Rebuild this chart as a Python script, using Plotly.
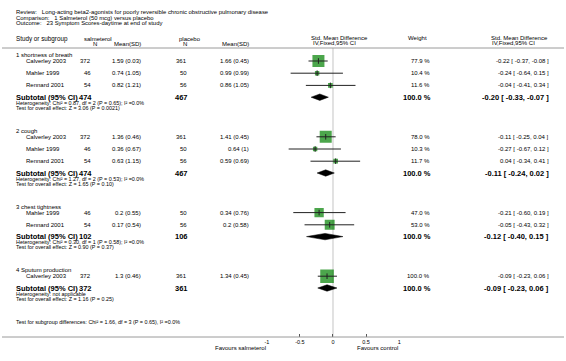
import math
import plotly.graph_objects as go

# ---------------- data ----------------
review = "Review:   Long-acting beta2-agonists for poorly reversible chronic obstructive pulmonary disease"
comparison = "Comparison:   1 Salmeterol (50 mcg) versus placebo"
outcome = "Outcome:   23 Symptom Scores-daytime at end of study"

groups = ["1 shortness of breath", "2 cough", "3 chest tightness", "4 Sputum production"]
study_group = [0, 0, 0, 1, 1, 1, 2, 2, 3]
studies = ["Calverley 2003", "Mahler 1999", "Rennard 2001",
           "Calverley 2003", "Mahler 1999", "Rennard 2001",
           "Mahler 1999", "Rennard 2001",
           "Calverley 2003"]
salm_n = [372, 46, 54, 372, 46, 54, 46, 54, 372]
salm_mean = [1.59, 0.74, 0.82, 1.36, 0.36, 0.63, 0.2, 0.17, 1.3]
salm_sd = [0.03, 1.05, 1.21, 0.46, 0.67, 1.15, 0.55, 0.54, 0.46]
plac_n = [361, 50, 56, 361, 50, 56, 50, 56, 361]
plac_mean = [1.66, 0.99, 0.86, 1.41, 0.64, 0.59, 0.34, 0.2, 1.34]
plac_sd = [0.45, 0.99, 1.05, 0.45, 1, 0.69, 0.76, 0.58, 0.45]
weight = [77.9, 10.4, 11.6, 78.0, 10.3, 11.7, 47.0, 53.0, 100.0]
smd = [-0.22, -0.24, -0.04, -0.11, -0.27, 0.04, -0.21, -0.05, -0.09]
ci_lo = [-0.37, -0.64, -0.41, -0.25, -0.67, -0.34, -0.60, -0.43, -0.23]
ci_hi = [-0.08, 0.15, 0.34, 0.04, 0.12, 0.41, 0.19, 0.32, 0.06]

sub_salm_n = [474, 474, 102, 372]
sub_plac_n = [467, 467, 106, 361]
sub_weight = [100.0, 100.0, 100.0, 100.0]
sub_smd = [-0.20, -0.11, -0.12, -0.09]
sub_lo = [-0.33, -0.24, -0.40, -0.23]
sub_hi = [-0.07, 0.02, 0.15, 0.06]
heterogeneity = [
    "Heterogeneity: Chi² = 0.87, df = 2 (P = 0.65); I² =0.0%",
    "Heterogeneity: Chi² = 1.27, df = 2 (P = 0.53); I² =0.0%",
    "Heterogeneity: Chi² = 0.30, df = 1 (P = 0.58); I² =0.0%",
    "Heterogeneity: not applicable",
]
overall = [
    "Test for overall effect: Z = 3.06 (P = 0.0021)",
    "Test for overall effect: Z = 1.65 (P = 0.10)",
    "Test for overall effect: Z = 0.90 (P = 0.37)",
    "Test for overall effect: Z = 1.16 (P = 0.25)",
]
subgroup_test = "Test for subgroup differences: Chi² = 1.66, df = 3 (P = 0.65), I² =0.0%"
tick_vals = [-1, -0.5, 0, 0.5, 1]
tick_labels = ["-1", "-0.5", "0", "0.5", "1"]
favours_left = "Favours salmeterol"
favours_right = "Favours control"

# ---------------- layout (page-pixel rows) ----------------
W, H = 566, 361
FONT = "Liberation Sans, Arial, sans-serif"
TXT = "#000000"

y = 55.0
group_y, study_y, sub_y, het_y, test_y = [], [], [], [], []
for g in range(len(groups)):
    group_y.append(y)
    y += 6.0
    first = True
    for i, sg in enumerate(study_group):
        if sg != g:
            continue
        if not first:
            y += 12.2
        study_y.append(y)
        first = False
    y += 11.8
    sub_y.append(y)
    het_y.append(y + 5.6)
    test_y.append(y + 10.6)
    y += 10.6 + 23.0
subgroup_y = test_y[-1] + 23.0

AX_Y = 337.0
HEAD_LINE_Y = 48.0
X_M1, X_P1 = 266.7, 400.0

fig = go.Figure()
ann = []


def text(x, yy, s, size=6.0, anchor="left", bold=False, xref="x"):
    ann.append(dict(x=x, y=yy, xref=xref, yref="y", text=f"<b>{s}</b>" if bold else s,
                    showarrow=False, xanchor=anchor, yanchor="middle",
                    font=dict(family=FONT, size=size, color=TXT), borderpad=0))


# titles
text(13, 11.7, review, 5.9)
text(13, 17.7, comparison, 5.9)
text(13, 23.3, outcome, 5.9)

# column headers
text(13, 38.5, "Study or subgroup", 6.3)
text(82, 38.5, "salmeterol", 6.0)
text(94, 43.8, "N", 6.0, "center")
text(141, 43.8, "Mean(SD)", 6.0, "right")
text(177, 38.5, "placebo", 6.0)
text(187, 43.8, "N", 6.0, "right")
text(250, 43.8, "Mean(SD)", 6.0, "right")
text(310, 37.5, "Std. Mean Difference", 6.0)
text(312, 42.8, "IV,Fixed,95% CI", 6.0)
text(408, 37.5, "Weight", 6.0)
text(491, 37.5, "Std. Mean Difference", 6.0)
text(492, 42.8, "IV,Fixed,95% CI", 6.0)

# group rows
for g, name in enumerate(groups):
    text(13, group_y[g], name, 6.0)
    text(13, sub_y[g], "Subtotal (95% CI)", 7.5, bold=True)
    text(92, sub_y[g], str(sub_salm_n[g]), 7.5, "right", bold=True)
    text(188, sub_y[g], str(sub_plac_n[g]), 7.5, "right", bold=True)
    text(433, sub_y[g], f"{sub_weight[g]:.1f} %", 7.5, "right", bold=True)
    text(552, sub_y[g], f"{sub_smd[g]:.2f} [ {sub_lo[g]:.2f}, {sub_hi[g]:.2f} ]", 7.5, "right", bold=True)
    text(13, het_y[g], heterogeneity[g], 5.4)
    text(13, test_y[g], overall[g], 5.4)

# study rows
for i, s in enumerate(studies):
    yy = study_y[i]
    text(23, yy, s, 6.0)
    text(91, yy, str(salm_n[i]), 6.0, "right")
    text(141, yy, f"{salm_mean[i]:g} ({salm_sd[i]:g})", 6.0, "right")
    text(187, yy, str(plac_n[i]), 6.0, "right")
    text(250, yy, f"{plac_mean[i]:g} ({plac_sd[i]:g})", 6.0, "right")
    text(432, yy, f"{weight[i]:.1f} %", 6.0, "right")
    text(552, yy, f"{smd[i]:.2f} [ {ci_lo[i]:.2f}, {ci_hi[i]:.2f} ]", 6.0, "right")

text(13, subgroup_y, subgroup_test, 5.4)
text(-1, 347.7, favours_left, 6.0, "right", xref="x2")
text(1, 347.7, favours_right, 6.0, "right", xref="x2")

# ---------------- marks ----------------
sizes = [13.6 * math.sqrt(w / 100.0) for w in weight]
fig.add_trace(go.Scatter(x=smd, y=study_y, xaxis="x2", yaxis="y", mode="markers",
                         marker=dict(symbol="square", size=sizes, color="#008000",
                                     line=dict(width=0)),
                         hoverinfo="skip", showlegend=False))
ci_x, ci_y = [], []
for i in range(len(studies)):
    ci_x += [ci_lo[i], ci_hi[i], None]
    ci_y += [study_y[i], study_y[i], None]
fig.add_trace(go.Scatter(x=ci_x, y=ci_y, xaxis="x2", yaxis="y", mode="lines",
                         line=dict(color="#222222", width=1), hoverinfo="skip", showlegend=False))
fig.add_trace(go.Scatter(x=smd, y=study_y, xaxis="x2", yaxis="y", mode="markers",
                         marker=dict(symbol="line-ns", size=4, line=dict(color="#222222", width=1)),
                         hoverinfo="skip", showlegend=False))
for g in range(len(groups)):
    yy = sub_y[g]
    fig.add_trace(go.Scatter(x=[sub_lo[g], sub_smd[g], sub_hi[g], sub_smd[g], sub_lo[g]],
                             y=[yy, yy - 3.2, yy, yy + 3.2, yy], xaxis="x2", yaxis="y",
                             mode="lines", fill="toself", fillcolor="#000000",
                             line=dict(color="#000000", width=0.5),
                             hoverinfo="skip", showlegend=False))

shapes = [
    dict(type="line", xref="paper", yref="y", x0=0, x1=1, y0=HEAD_LINE_Y, y1=HEAD_LINE_Y,
         line=dict(color="#9a9a9a", width=1)),
    dict(type="line", xref="paper", yref="y", x0=0, x1=1, y0=AX_Y, y1=AX_Y,
         line=dict(color="#9a9a9a", width=1)),
    dict(type="line", xref="x2", yref="y", x0=0, x1=0, y0=HEAD_LINE_Y, y1=AX_Y,
         line=dict(color="#c4c4c4", width=1), layer="below"),
]

fig.update_layout(
    width=W, height=H, margin=dict(l=0, r=0, t=0, b=0),
    paper_bgcolor="white", plot_bgcolor="rgba(0,0,0,0)",
    showlegend=False, hovermode=False,
    xaxis=dict(domain=[0, 1], range=[0, W], visible=False, fixedrange=True),
    yaxis=dict(domain=[0, 1], range=[H, 0], visible=False, fixedrange=True),
    xaxis2=dict(domain=[X_M1 / W, X_P1 / W], range=[-1, 1], anchor="free",
                position=1 - AX_Y / H, showgrid=False, zeroline=False, showline=False,
                tickvals=tick_vals, ticktext=tick_labels, ticks="inside", ticklen=3,
                tickcolor="#555555", tickfont=dict(family=FONT, size=5.5, color=TXT),
                fixedrange=True),
    annotations=ann, shapes=shapes,
)

fig.write_html("out.html", config={"displayModeBar": False, "staticPlot": True},
               post_script="document.body.style.margin='0px';")
